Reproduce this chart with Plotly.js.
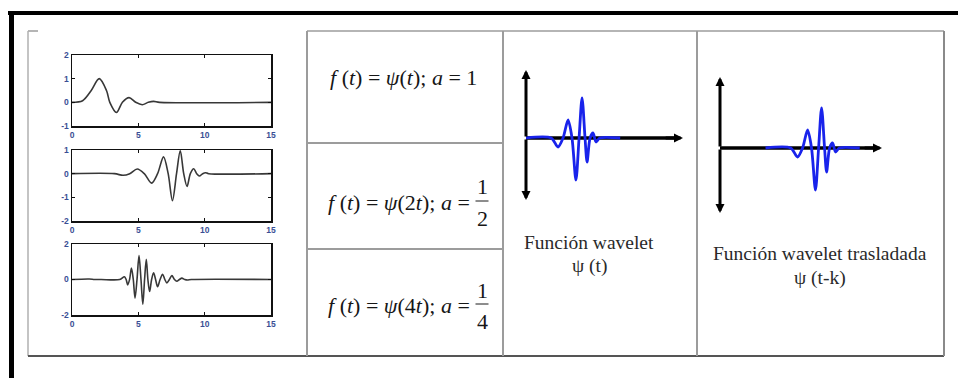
<!DOCTYPE html>
<html>
<head>
<meta charset="utf-8">
<script src="https://cdn.plot.ly/plotly-3.0.1.min.js"></script>
<style>
  html, body { margin: 0; padding: 0; background: #fff; }
  #chart { width: 958px; height: 378px; }
</style>
</head>
<body>
<div id="chart"></div>
<script>
// ---- wavelet samples (t, amplitude) ----
// psi(t), scale a = 1
const tScale1 = [0, 0.8, 1.45, 2.05, 2.6, 2.85, 3.35, 3.8, 4.3, 4.8, 5.3, 5.75, 6.15, 6.6, 15];
const yScale1 = [0, 0.07, 0.5, 1.0, 0.5, 0, -0.43, 0, 0.2, 0, -0.1, 0, 0.04, 0, 0];

// psi(2t), scale a = 1/2
const tScale2 = [0, 3.2, 3.85, 4.35, 4.92, 5.45, 6.0, 6.45, 6.9, 7.25, 7.57, 7.88, 8.16, 8.42, 8.67, 8.92, 9.17, 9.4, 9.6, 9.85, 10.06, 10.3, 15];
const yScale2 = [0, 0, -0.07, 0, 0.2, 0, -0.4, 0, 0.71, 0, -1.14, 0, 0.97, 0, -0.54, 0, 0.21, 0, -0.1, 0, 0.04, 0, 0];

// psi(4t), scale a = 1/4
const tScale4 = [0, 1.3, 1.7, 2.2, 3.6, 3.95, 4.08, 4.2, 4.34, 4.48, 4.62, 4.75, 4.9, 5.05, 5.2, 5.34, 5.47, 5.6, 5.72, 5.85, 6.0, 6.15, 6.3, 6.45, 6.64, 6.83, 7.0, 7.15, 7.34, 7.53, 7.72, 7.9, 8.1, 8.28, 8.5, 8.7, 9.0, 15];
const yScale4 = [0, 0.03, 0, 0, 0, 0.15, 0, -0.3, 0, 0.65, 0, -1.05, 0, 1.35, 0, -1.4, 0, 1.14, 0, -0.68, 0, 0.38, 0, -0.4, 0, 0.3, 0, -0.19, 0, 0.22, 0, -0.1, 0, 0.08, 0, -0.03, 0, 0];

// schematic mother wavelet psi(t) and its translate psi(t-k)
const tMother = [0, 1.6, 2.04, 2.36, 2.68, 2.93, 3.18, 3.38, 3.57, 3.76, 3.89, 4.08, 4.27, 4.46, 4.7, 6.0];
const yMother = [0, 0, -0.18, 0, 0.36, 0, -0.84, 0, 0.8, 0, -0.48, 0, 0.1, -0.08, 0, 0];
const shiftK = 2.9;

// axis ticks for the three scale panels
const xTicks = [0, 5, 10, 15];
const yTicks1 = [-1, 0, 1, 2];
const yTicks2 = [-2, -1, 0, 1];
const yTicks4 = [-2, 0, 2];
const tickText = v => String(v);   // plain hyphen minus, as in the printed panels

// cell texts
const formulaMain = [
  '<i>f</i> (<i>t</i>) = <i>ψ</i>(<i>t</i>); <i>a</i> = 1',
  '<i>f</i> (<i>t</i>) = <i>ψ</i>(2<i>t</i>); <i>a</i> =',
  '<i>f</i> (<i>t</i>) = <i>ψ</i>(4<i>t</i>); <i>a</i> ='
];
const fracNum = ['1', '1'];
const fracDen = ['2', '4'];
const captionMother = ['Función wavelet', 'ψ (t)'];
const captionShift = ['Función wavelet trasladada', 'ψ (t-k)'];

// ---- page geometry helpers (pixel -> paper) ----
const W = 958, H = 378;
const X = p => p / W;
const Y = p => 1 - p / H;

const curveLine = { color: '#383838', width: 1.6, shape: 'spline', smoothing: 0.9 };
const blueLine = { color: 'rgb(25,35,235)', width: 2.8, shape: 'spline', smoothing: 0.8 };

const traces = [
  { x: tScale1, y: yScale1, xaxis: 'x', yaxis: 'y', mode: 'lines', line: curveLine, hoverinfo: 'skip' },
  { x: tScale2, y: yScale2, xaxis: 'x2', yaxis: 'y2', mode: 'lines', line: curveLine, hoverinfo: 'skip' },
  { x: tScale4, y: yScale4, xaxis: 'x3', yaxis: 'y3', mode: 'lines', line: curveLine, hoverinfo: 'skip' },
  { x: tMother, y: yMother, xaxis: 'x4', yaxis: 'y4', mode: 'lines', line: blueLine, hoverinfo: 'skip' },
  { x: tMother.map(t => t + shiftK), y: yMother, xaxis: 'x5', yaxis: 'y5', mode: 'lines', line: blueLine, hoverinfo: 'skip' }
];

const tickFont = { family: 'Liberation Sans, Arial, sans-serif', size: 8.5, color: '#3a4e94', weight: 'bold' };

function scaleX(anchor) {
  return {
    anchor, domain: [X(72), X(271)], range: [0, 15], tickvals: xTicks, ticktext: xTicks.map(tickText),
    showline: true, mirror: 'ticks', linecolor: '#111', linewidth: 1.5,
    ticks: 'inside', ticklen: 3, tickcolor: '#111', showgrid: false, zeroline: false,
    tickfont: tickFont, fixedrange: true
  };
}
function scaleY(anchor, top, bottom, range, ticks) {
  return {
    anchor, domain: [Y(bottom), Y(top)], range, tickvals: ticks, ticktext: ticks.map(tickText),
    showline: true, mirror: 'ticks', linecolor: '#111', linewidth: 1.5,
    ticks: 'inside', ticklen: 3, tickcolor: '#111', showgrid: false, zeroline: false,
    tickfont: tickFont, fixedrange: true
  };
}
function sketchAxis(anchor, domain, range) {
  return { anchor, domain, range, visible: false, fixedrange: true };
}

// sketch frames: pixel extents of the hand-drawn axes
const m = { x0: 526, x1: 683, yTop: 70, yBot: 200, y0: 138 };
const s = { x0: 720, x1: 882, yTop: 77, yBot: 213, y0: 148 };
const unitX = 15.7, unitY = 50;   // pixels per unit in the sketches

const layout = {
  width: W, height: H,
  margin: { l: 0, r: 0, t: 0, b: 0 },
  paper_bgcolor: '#fff', plot_bgcolor: 'rgba(0,0,0,0)',
  showlegend: false,
  xaxis: scaleX('y'), yaxis: scaleY('x', 55, 126, [-1, 2], yTicks1),
  xaxis2: scaleX('y2'), yaxis2: scaleY('x2', 150, 221, [-2, 1], yTicks2),
  xaxis3: scaleX('y3'), yaxis3: scaleY('x3', 244, 315, [-2, 2], yTicks4),
  xaxis4: sketchAxis('y4', [X(m.x0), X(m.x1)], [0, (m.x1 - m.x0) / unitX]),
  yaxis4: sketchAxis('x4', [Y(m.yBot), Y(m.yTop)], [-(m.yBot - m.y0) / unitY, (m.y0 - m.yTop) / unitY]),
  xaxis5: sketchAxis('y5', [X(s.x0), X(s.x1)], [0, (s.x1 - s.x0) / unitX]),
  yaxis5: sketchAxis('x5', [Y(s.yBot), Y(s.yTop)], [-(s.yBot - s.y0) / unitY, (s.y0 - s.yTop) / unitY]),
  shapes: [],
  annotations: []
};

const sh = layout.shapes, an = layout.annotations;
function pline(x0, y0, x1, y1, color, width) {
  sh.push({ type: 'line', xref: 'paper', yref: 'paper', x0: X(x0), y0: Y(y0), x1: X(x1), y1: Y(y1),
            line: { color, width }, layer: 'below' });
}

// black page frame
pline(8, 13, 958, 13, '#000', 4);
pline(11.5, 11, 11.5, 378, '#000', 5);

// table grid
const grey = '#9c9c9c';
pline(28, 31, 38, 31, grey, 1.5);
pline(307, 31, 944, 31, grey, 1.5);
pline(28, 31, 28, 356, '#b0b0b0', 1.5);
pline(28, 356, 944, 356, '#555', 1.8);
pline(944, 31, 944, 356, '#8a8a8a', 2);
pline(307, 31, 307, 356, grey, 2);
pline(503, 31, 503, 356, grey, 2);
pline(697, 31, 697, 356, grey, 2);
pline(307, 143, 503, 143, grey, 2);
pline(307, 249, 503, 249, grey, 2);

// formulas in the middle column
const serif = 'Liberation Serif, Times New Roman, serif';
const fFont = { family: serif, size: 22, color: '#161616' };
function ptext(text, x, y, font, xanchor) {
  an.push({ text, xref: 'paper', yref: 'paper', x: X(x), y: Y(y), xanchor: xanchor || 'center',
            yanchor: 'middle', showarrow: false, font });
}
ptext(formulaMain[0], 403, 77, fFont);
const rowY = [202, 305];
for (let i = 0; i < 2; i++) {
  ptext(formulaMain[i + 1], 472, rowY[i], fFont, 'right');
  ptext(fracNum[i], 482, rowY[i] - 15, fFont);
  ptext(fracDen[i], 482, rowY[i] + 16, fFont);
  pline(475.5, rowY[i] - 1, 488.5, rowY[i] - 1, '#1a1a1a', 1);
}

// captions
const capFont = { family: serif, size: 19.5, color: '#2a2a2a' };
ptext(captionMother[0], 589, 242, capFont);
ptext(captionMother[1], 590, 266, capFont);
ptext(captionShift[0], 820, 253, capFont);
ptext(captionShift[1], 820, 278, capFont);

// hand-drawn axes with arrowheads for the two sketches
function sketchAxes(xa, ya, ymin, ymax, xmax) {
  sh.push({ type: 'line', xref: xa, yref: ya, x0: 0, x1: xmax - 0.3, y0: 0, y1: 0,
            line: { color: '#000', width: 3.5 }, layer: 'below' });
  const arrow = { text: '', xref: xa, yref: ya, axref: xa, ayref: ya, showarrow: true,
                  arrowhead: 2, arrowsize: 0.6, arrowwidth: 3, arrowcolor: '#000' };
  an.push(Object.assign({}, arrow, { x: 0, y: ymax, ax: 0, ay: 0 }));
  an.push(Object.assign({}, arrow, { x: 0, y: ymin, ax: 0, ay: 0 }));
  an.push(Object.assign({}, arrow, { x: xmax, y: 0, ax: xmax - 1.2, ay: 0 }));
}
sketchAxes('x4', 'y4', layout.yaxis4.range[0], layout.yaxis4.range[1], layout.xaxis4.range[1]);
sketchAxes('x5', 'y5', layout.yaxis5.range[0], layout.yaxis5.range[1], layout.xaxis5.range[1]);

Plotly.newPlot('chart', traces, layout, { staticPlot: true, displayModeBar: false });
</script>
</body>
</html>
